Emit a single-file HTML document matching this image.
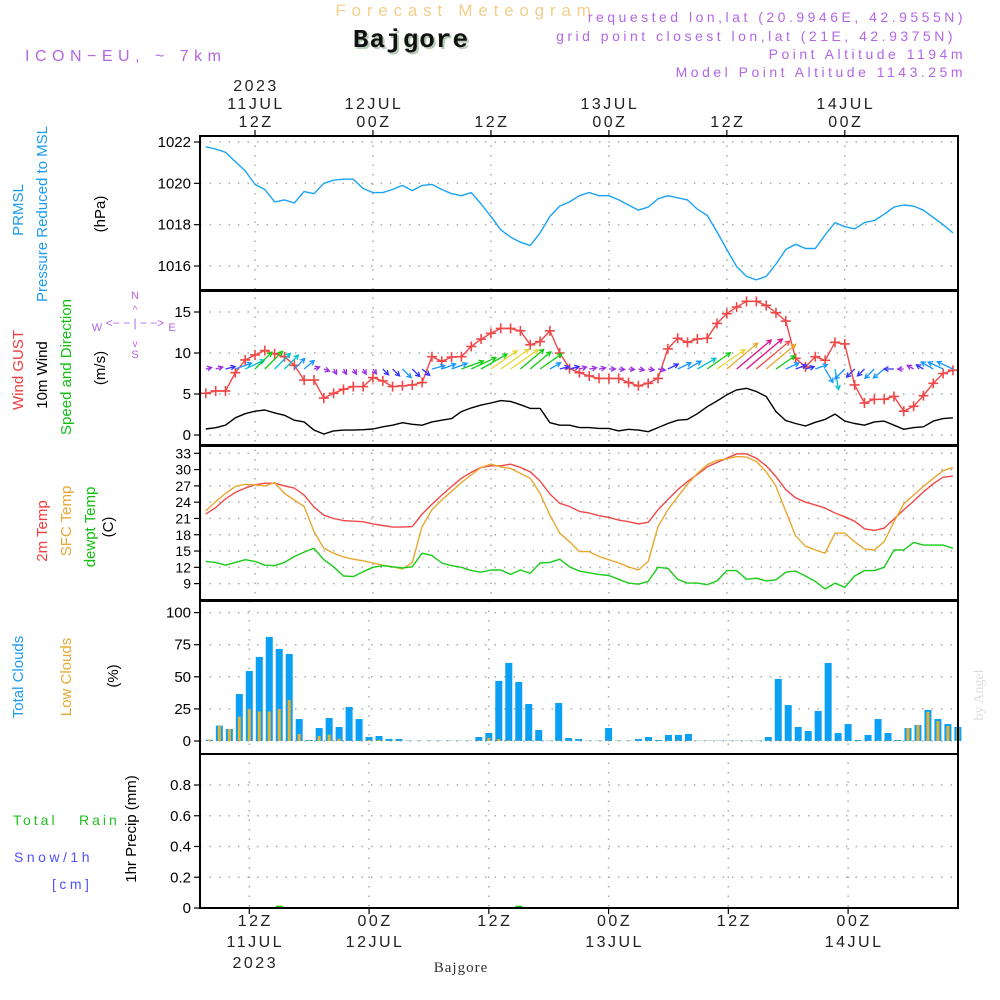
<!DOCTYPE html>
<html><head><meta charset="utf-8"><style>
html,body{margin:0;padding:0;background:#fff}
svg{display:block;font-family:"Liberation Sans",sans-serif}
</style></head><body>
<svg id="chart" width="1000" height="1000" viewBox="0 0 1000 1000" xmlns="http://www.w3.org/2000/svg">
<rect width="1000" height="1000" fill="#fff"/>
<text x="466" y="16" text-anchor="middle" font-size="17" letter-spacing="5.8" fill="#f2cf8c">Forecast Meteogram</text>
<text x="413" y="49" text-anchor="middle" font-size="26" font-weight="bold" font-family="Liberation Mono,monospace" letter-spacing="1" fill="#b8ccb8">Bajgore</text>
<text x="411" y="47" text-anchor="middle" font-size="26" font-weight="bold" font-family="Liberation Mono,monospace" letter-spacing="1" fill="#111">Bajgore</text>
<text x="25" y="61" font-size="16" letter-spacing="5.5" fill="#b366e6">ICON−EU, ~ 7km</text>
<g font-size="14" letter-spacing="3.5" fill="#b366e6" text-anchor="end">
<text x="966" y="22">requested lon,lat (20.9946E, 42.9555N)</text>
<text x="956" y="41">grid point closest lon,lat (21E, 42.9375N)</text>
<text x="966" y="59">Point Altitude 1194m</text>
<text x="966" y="77">Model Point Altitude 1143.25m</text>
</g>
<g id="grid"></g>
<g id="marks"></g>
<g id="axes"></g>
<g font-size="15">
<text transform="translate(23,210) rotate(-90)" text-anchor="middle" fill="#1a9cf0">PRMSL</text>
<text transform="translate(47,214) rotate(-90)" text-anchor="middle" fill="#1a9cf0">Pressure Reduced to MSL</text>
<text transform="translate(105,214) rotate(-90)" text-anchor="middle" fill="#000">(hPa)</text>
<text transform="translate(23,370) rotate(-90)" text-anchor="middle" fill="#f03c3c">Wind GUST</text>
<text transform="translate(47,375) rotate(-90)" text-anchor="middle" fill="#000">10m Wind</text>
<text transform="translate(71,367) rotate(-90)" text-anchor="middle" fill="#10c010">Speed and Direction</text>
<text transform="translate(105,368) rotate(-90)" text-anchor="middle" fill="#000">(m/s)</text>
<text transform="translate(47,531) rotate(-90)" text-anchor="middle" fill="#f03c3c">2m Temp</text>
<text transform="translate(71,521) rotate(-90)" text-anchor="middle" fill="#e8a830">SFC Temp</text>
<text transform="translate(95,527) rotate(-90)" text-anchor="middle" fill="#10c010">dewpt Temp</text>
<text transform="translate(113,527) rotate(-90)" text-anchor="middle" fill="#000">(C)</text>
<text transform="translate(23,677) rotate(-90)" text-anchor="middle" fill="#1a9cf0">Total Clouds</text>
<text transform="translate(71,677) rotate(-90)" text-anchor="middle" fill="#e8a830">Low Clouds</text>
<text transform="translate(118,676) rotate(-90)" text-anchor="middle" fill="#000">(%)</text>
<text transform="translate(136,829) rotate(-90)" text-anchor="middle" fill="#000">1hr Precip (mm)</text>
<text x="13" y="825" font-size="14" letter-spacing="3" fill="#20c020">Total</text>
<text x="79" y="825" font-size="14" letter-spacing="3" fill="#20c020">Rain</text>
<text x="14" y="862" font-size="14" letter-spacing="3.5" fill="#5050ff">Snow/1h</text>
<text x="52" y="889" font-size="14" letter-spacing="3.5" fill="#5050ff">[cm]</text>
</g>
<g fill="#b366e6" font-size="11" text-anchor="middle">
<text x="135" y="299">N</text><text x="135" y="358">S</text><text x="97" y="331">W</text><text x="172" y="331">E</text>
<text x="135" y="327" font-size="12">&lt;− − | − −&gt;</text>
<text x="135" y="313" font-size="10">^</text><text x="135" y="347" font-size="10">v</text>
</g>
<text transform="translate(983,695) rotate(-90)" text-anchor="middle" font-size="14" font-family="Liberation Serif,serif" fill="#ddd">by Angel</text>
<text x="461" y="972" text-anchor="middle" font-size="15" font-family="Liberation Serif,serif" letter-spacing="1" fill="#333">Bajgore</text>
</svg>
<script>
// ---- data ----
const hours = [];
for (let h = -5; h <= 71; h++) hours.push(h);
const pressure = [1021.77,1021.66,1021.5,1021.05,1020.6,1019.95,1019.7,1019.1,1019.2,1019.05,1019.6,1019.5,1020.0,1020.15,1020.2,1020.2,1019.75,1019.55,1019.55,1019.7,1019.9,1019.65,1019.9,1019.95,1019.7,1019.5,1019.4,1019.55,1019.0,1018.4,1017.75,1017.4,1017.15,1017.0,1017.6,1018.4,1018.9,1019.1,1019.4,
1019.55,1019.4,1019.4,1019.2,1018.95,1018.7,1018.85,1019.25,1019.4,1019.3,1019.2,1018.75,1018.45,1017.65,1016.8,1015.97,1015.5,1015.33,1015.5,1016.1,1016.8,1017.05,1016.85,1016.85,1017.5,
1018.1,1017.9,1017.8,1018.1,1018.2,1018.5,1018.85,1018.95,1018.9,1018.7,1018.35,1018.0,1017.6];
const gust = [5.08,5.37,5.37,7.6,9.15,9.76,10.3,9.9,9.55,8.5,6.7,6.7,4.5,5.08,5.57,5.9,5.9,7.0,6.6,5.9,6.0,6.1,6.4,9.55,9.0,9.5,9.55,10.8,11.7,12.4,13.0,13.0,12.7,11.0,11.4,12.7,10.0,8.1,7.6,
7.2,6.9,6.9,6.9,6.4,6.0,6.3,6.9,10.5,11.8,11.3,11.7,11.8,13.6,14.8,15.6,16.3,16.3,15.8,14.9,13.9,9.35,8.3,9.55,9.1,11.3,11.1,6.1,3.9,4.35,4.35,4.7,2.9,3.5,4.8,6.3,7.5,7.9];
const wind10 = [0.73,0.89,1.2,2.1,2.6,2.9,3.05,2.7,2.4,1.8,1.6,0.6,0.12,0.5,0.6,0.6,0.65,0.73,1.0,1.2,1.5,1.3,1.2,1.6,1.8,2.0,2.85,3.3,3.65,3.9,4.2,4.1,3.7,3.25,3.25,1.5,1.2,1.2,0.9,
0.9,0.8,0.8,0.5,0.7,0.6,0.4,0.9,1.4,1.8,1.9,2.6,3.45,4.15,4.9,5.5,5.7,5.3,4.7,2.85,1.75,1.4,1.1,1.55,1.9,2.55,1.7,1.4,1.2,1.6,1.7,1.2,0.7,0.9,1.0,1.7,2.0,2.1];
const windDir = [15,15,15,20,25, 45,45,45,45,45, 40,20,-20, -60,-60,-60,-60,-55, -45,-45,-45,-45,-40, 15,20,20,20,25,30, 35,35,35,40,40,35,30, 15,15,15,10,10, 0,-5,-5,-10,-10,-10, 25,25,30,30,35,35, 40,40,40,40,40, 35,25,20,15,20, -60,-80, -135,-135,-135,-135,-140, 180,180, 150,150,150,155,155];
const temp2m = [21.8,23.0,24.6,25.8,26.6,27.2,27.5,27.5,27.0,26.6,25.3,23.1,21.6,21.0,20.6,20.5,20.4,20.0,19.7,19.4,19.4,19.5,21.8,23.6,25.3,26.9,28.4,29.5,30.4,30.7,30.7,31.0,30.4,29.6,27.9,25.5,23.8,23.2,22.3,
22.0,21.5,21.2,20.7,20.4,20.0,20.3,22.6,24.5,26.3,27.8,29.1,30.5,31.3,32.1,32.9,32.9,32.1,30.7,28.7,26.3,24.8,24.0,23.5,22.9,22.0,21.3,20.5,19.1,18.8,19.2,20.9,22.6,24.2,25.9,27.4,28.6,28.8];
const tempSfc = [22.4,24.1,25.6,26.9,27.3,27.2,27.0,27.6,25.6,24.4,23.2,18.6,15.5,14.6,13.9,13.5,13.2,12.8,12.4,12.1,11.7,12.9,19.5,22.6,24.4,26.0,27.6,29.0,30.4,31.0,30.5,30.2,29.3,28.4,25.6,21.6,18.3,16.7,14.9,
14.9,14.0,13.4,12.8,12.1,11.5,13.1,19.5,22.6,25.0,27.3,29.3,30.9,31.7,32.0,32.4,32.3,31.5,29.6,26.9,22.3,17.8,15.9,15.2,14.6,18.3,18.3,16.7,15.4,15.2,16.7,20.4,23.7,25.3,26.9,28.4,29.8,30.4];
const dewpt = [13.1,12.9,12.4,12.9,13.4,13.1,12.4,12.3,12.9,14.0,14.8,15.5,13.4,12.1,10.4,10.3,11.2,12.0,12.3,12.1,11.9,12.1,14.6,14.2,12.8,12.3,12.0,11.4,11.1,11.5,11.5,10.7,11.5,10.9,12.8,12.9,13.5,12.1,11.3,
11.0,10.7,10.5,9.8,9.1,8.9,9.4,12.0,11.8,9.8,9.1,9.1,8.8,9.5,11.4,11.4,9.8,10.0,9.5,9.7,11.1,11.3,10.4,9.4,8.0,9.1,8.3,10.4,11.4,11.4,12.0,15.2,15.2,16.6,16.1,16.1,16.1,15.5];
const cloudHours = [];
for (let h = -4; h <= 71; h++) cloudHours.push(h);
const totalClouds = [1,12,9.4,36.6,54.5,65.5,81,71.7,67.8,17.1,0.8,10.1,17.9,10.9,26.5,17.1,3.1,3.9,1.6,1.6,0.3,0.3,0.3,0.3,0.3,0.3,0.3,3.1,6.2,46.8,60.8,46,28.8,8.6,0.3,29.6,2.3,1.6,0.3,
0.3,10.1,0.3,0.3,1.6,3.1,0.8,4.7,4.7,5.5,0.3,0.3,0.3,0.3,0.3,0.3,0.3,3.1,48.3,28,10.9,7.8,23.4,60.8,6.2,13.2,0.8,4.7,17.1,6.2,0.8,10.1,12.5,24.2,17.1,13.2,10.9];
const lowClouds = [1,11.7,9.4,19,25,23,23,25,32,5.5,0.5,3.9,4.9,1.8,0.3,0.3,0.8,0.8,0.3,0.3,0.3,0.3,0.3,0.3,0.3,0.3,0.3,0.3,2.6,1.6,0.5,0.3,0.3,0.3,0.3,0.3,0.3,0.3,0.3,
0.3,0.3,0.3,0.3,0.3,0.3,0.3,0.3,0.3,0.3,0.3,0.3,0.3,0.3,0.3,0.3,0.3,0.3,0.3,0.3,0.3,0.3,0.3,0.3,0.3,0.3,0.3,0.3,0.3,0.3,0.3,10.1,12.5,22.6,15.6,11.7,10.1];
const precipHours = [3, 27];
const precipValues = [0.015, 0.015];
const pressureTicks = [1016,1018,1020,1022];
const windTicks = [0,5,10,15];
const tempTicks = [9,12,15,18,21,24,27,30,33];
const cloudTicks = [0,25,50,75,100];
const precipTicks = [0,0.2,0.4,0.6,0.8];
const precipTickLabels = ['0','0.2','0.4','0.6','0.8'];
const timeTicks = [0,12,24,36,48,60];
const topTimeLabels = [['2023','11JUL','12Z'],['12JUL','00Z'],['12Z'],['13JUL','00Z'],['12Z'],['14JUL','00Z']];
const bottomTimeLabels = [['12Z','11JUL','2023'],['00Z','12JUL'],['12Z'],['00Z','13JUL'],['12Z'],['00Z','14JUL']];

// ---- scales ----
const X0 = 200, X1 = 958;
const x = h => 255 + h * 9.83;
const xc = h => 249.3 + h * 9.98;
const py = v => 142 + (1022 - v) * 20.67;
const wy = v => 435 - v * 8.2;
const ty = v => 453.3 + (33 - v) * 5.43;
const cy = v => 741 - v * 1.284;
const ry = v => 908 - v * 153.75;
const panels = [[136,290],[291,445],[446,600],[601,754],[754,908]];

const NS = 'http://www.w3.org/2000/svg';
function mk(tag, attrs, parent) {
  const e = document.createElementNS(NS, tag);
  for (const k in attrs) e.setAttribute(k, attrs[k]);
  parent.appendChild(e);
  return e;
}
const grid = document.getElementById('grid');
const marks = document.getElementById('marks');
const axes = document.getElementById('axes');

function hgrid(ticks, yf, name) {
  ticks.forEach(t => {
    const l = mk('line', {x1: X0, x2: X1, y1: yf(t), y2: yf(t), stroke: '#aaa', 'stroke-width': 1.5, 'stroke-dasharray': '1.5,8'}, grid);
    
    
  });
}
hgrid(pressureTicks, py, 'pressure');
hgrid(windTicks, wy, 'wind');
hgrid(tempTicks, ty, 'temp');
hgrid(cloudTicks, cy, 'cloud');
hgrid(precipTicks, ry, 'precip');
timeTicks.forEach(t => {
  [[136,600,x],[601,908,xc]].forEach(([a,b,f]) => {
    const l = mk('line', {x1: f(t), x2: f(t), y1: a, y2: b, stroke: '#aaa', 'stroke-width': 1.5, 'stroke-dasharray': '1.5,8'}, grid);
    
    
  });
});

function poly(vals, xs, yf, color, name, w) {
  const pts = vals.map((v, i) => x(xs[i]).toFixed(1) + ',' + yf(v).toFixed(1)).join(' ');
  const p = mk('polyline', {points: pts, fill: 'none', stroke: color, 'stroke-width': w || 1.4, 'stroke-linejoin': 'round'}, marks);
  
  
}
poly(pressure, hours, py, '#1aa3f5', 'pressure-line');
poly(wind10, hours, wy, '#000', 'wind10-line');
poly(gust, hours, wy, '#f04848', 'gust-line');
gust.forEach((v, i) => {
  const cx = x(hours[i]), cyv = wy(v);
  const g = mk('path', {d: `M${cx-5},${cyv}H${cx+5}M${cx},${cyv-5}V${cyv+5}`, stroke: '#f04848', 'stroke-width': 1.6, fill: 'none'}, marks);
  
  
});
function windColor(s) {
  if (s < 1) return '#9a30e8';
  if (s < 1.5) return '#3535ff';
  if (s < 2.2) return '#1896ff';
  if (s < 2.8) return '#00c4d0';
  if (s < 3.8) return '#10cc10';
  if (s < 4.6) return '#e6d838';
  if (s < 5.0) return '#e8a830';
  if (s < 5.4) return '#f04848';
  return '#e0108a';
}
wind10.forEach((s, i) => {
  const bx = x(hours[i]), by = 369;
  const L = Math.max(s * 8.2, 6);
  const a = windDir[i] * Math.PI / 180;
  const ex = bx + L * Math.cos(a), ey = by - L * Math.sin(a);
  const hl = 5, ha = 0.5;
  const h1x = ex - hl * Math.cos(a - ha), h1y = ey + hl * Math.sin(a - ha);
  const h2x = ex - hl * Math.cos(a + ha), h2y = ey + hl * Math.sin(a + ha);
  const ar = mk('path', {d: `M${bx},${by}L${ex},${ey}M${h1x},${h1y}L${ex},${ey}L${h2x},${h2y}`, stroke: windColor(s), 'stroke-width': 1.3, fill: 'none'}, marks);
  
  
});
poly(temp2m, hours, ty, '#f04848', 'temp-2m-line');
poly(tempSfc, hours, ty, '#e8a830', 'temp-sfc-line');
poly(dewpt, hours, ty, '#18cc18', 'dewpoint-line');

totalClouds.forEach((v, i) => {
  const cxv = xc(cloudHours[i]);
  const b = mk('rect', {x: cxv - 3.5, y: cy(v), width: 7, height: 741 - cy(v), fill: '#0aa0f5'}, marks);
  
  
});
lowClouds.forEach((v, i) => {
  const cxv = xc(cloudHours[i]);
  const b = mk('rect', {x: cxv - 1.5, y: cy(v), width: 3, height: 741 - cy(v), fill: '#e8b030'}, marks);
  
  
});
precipValues.forEach((v, i) => {
  const cxv = xc(precipHours[i]);
  const b = mk('rect', {x: cxv - 3.5, y: ry(v), width: 7, height: 908 - ry(v), fill: '#20c820'}, marks);
  
  
});

panels.forEach(([a, b]) => {
  const r = mk('rect', {x: X0, y: a, width: X1 - X0, height: b - a, fill: 'none', stroke: '#000', 'stroke-width': 2}, axes);
  
  
});
function yticks(ticks, labels, yf, name, fs) {
  ticks.forEach((t, i) => {
    const yy = yf(t);
    const tk = mk('line', {x1: X0 - 6, x2: X0, y1: yy, y2: yy, stroke: '#000', 'stroke-width': 1.2}, axes);
    
    
    const tx = mk('text', {x: X0 - 9, y: yy + 5, 'text-anchor': 'end', 'font-size': fs || 15, fill: '#000'}, axes);
    tx.textContent = labels ? labels[i] : String(t);
    
    
  });
}
yticks(pressureTicks, null, py, 'pressure');
yticks(windTicks, null, wy, 'wind');
yticks(tempTicks, null, ty, 'temp', 14);
yticks(cloudTicks, null, cy, 'cloud');
yticks(precipTicks, precipTickLabels, ry, 'precip');

timeTicks.forEach((t, i) => {
  const xt = x(t);
  const tk = mk('line', {x1: xt, x2: xt, y1: 130, y2: 136, stroke: '#000', 'stroke-width': 1.2}, axes);
  
  
  const lines = topTimeLabels[i];
  lines.forEach((s, j) => {
    const yy = 127 - (lines.length - 1 - j) * 18;
    const tx = mk('text', {x: xt + 1, y: yy, 'text-anchor': 'middle', 'font-size': 16, 'letter-spacing': 2.5, fill: '#222'}, axes);
    tx.textContent = s;
    
    
  });
  const xb = xc(t) + 5;
  const tk2 = mk('line', {x1: xc(t), x2: xc(t), y1: 908, y2: 914, stroke: '#000', 'stroke-width': 1.2}, axes);
  
  
  bottomTimeLabels[i].forEach((s, j) => {
    const tx = mk('text', {x: xb + 1, y: 926 + j * 21, 'text-anchor': 'middle', 'font-size': 16, 'letter-spacing': 2.5, fill: '#222'}, axes);
    tx.textContent = s;
    
    
  });
});
</script>
</body></html>
